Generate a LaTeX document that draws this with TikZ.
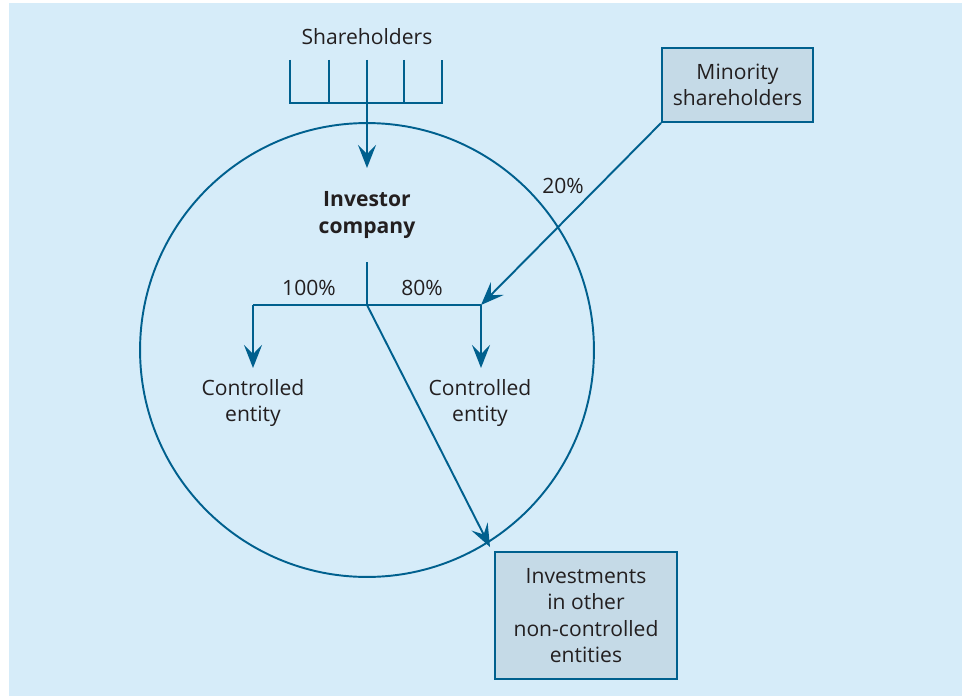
\documentclass[tikz,border=0pt]{standalone}
\usepackage{fontspec}
\setmainfont{Open Sans}
\usetikzlibrary{arrows.meta}
\definecolor{sky}{HTML}{D6ECF9}
\definecolor{ink}{HTML}{00608E}
\definecolor{boxfill}{HTML}{C5DAE7}
\definecolor{txt}{HTML}{231F20}
\tikzset{
  flow/.style={draw=ink, line width=1.1pt},
  tip/.style={flow, -{Stealth[length=4.6mm, width=3.6mm, inset=1.8mm]}},
  label/.style={text=txt, align=center, font=\fontsize{12}{14.9}\selectfont},
  outside/.style={label, draw=ink, fill=boxfill, line width=1.1pt, inner sep=0pt}
}
\begin{document}
\begin{tikzpicture}[x=0.02cm, y=-0.02cm]
\useasboundingbox (0,0) rectangle (962,696);
\fill[sky] (9,3) rectangle (962,696);

% the group
\node[draw=ink, line width=1.1pt, circle, minimum size=9.08cm, inner sep=0pt] (group) at (367,350) {};

% shareholders of the investor
\node[label] (share) at (367,37) {Shareholders};
\draw[flow] (290,60) -- (290,103) -- (442,103) -- (442,60);
\draw[flow] (329,60) -- (329,103);
\draw[flow] (404,60) -- (404,103);
\coordinate (combtop) at (367,60);
\coordinate (combtip) at (367,168);
\draw[tip] (combtop) -- (combtip);

\node[label, font=\fontsize{12}{14.9}\selectfont\bfseries] (inv) at (367,215) {Investor\\company};

% holdings
\coordinate (stem) at (367,262);
\coordinate (split) at (367,305);
\coordinate (left) at (253,305);
\coordinate (right) at (481,305);
\coordinate (lefttip) at (253,368);
\coordinate (righttip) at (481,368);
\draw[flow] (stem) -- (split);
\draw[flow] (left) -- (right);
\draw[tip] (left) -- (lefttip);
\draw[tip] (right) -- (righttip);
\node[label] (full) at (309,288) {100\%};
\node[label] (part) at (422,288) {80\%};

\node[label] (ctrlA) at (253,403) {Controlled\\entity};
\node[label] (ctrlB) at (480,403) {Controlled\\entity};

% minority interest
\node[outside, minimum width=3.02cm, minimum height=1.48cm] (minor) at (737.5,85) {Minority\\shareholders};
\draw[tip] (minor.south west) -- (right);
\node[label] (minpct) at (563,186) {20\%};

% other investments
\node[outside, minimum width=3.64cm, minimum height=2.54cm] (other) at (586,615.5) {Investments\\in other\\non-controlled\\entities};
\coordinate (othertip) at (490,547);
\draw[tip] (split) -- (othertip);
\end{tikzpicture}
\end{document}
